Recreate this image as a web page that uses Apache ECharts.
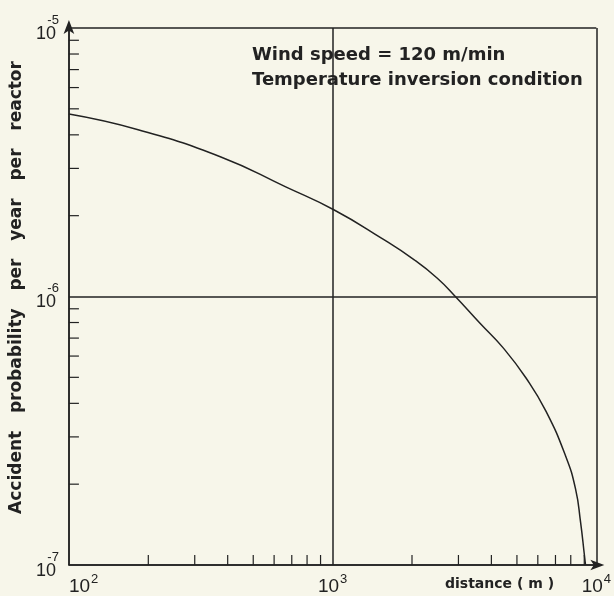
<!DOCTYPE html>
<html>
<head>
<meta charset="utf-8">
<script src="https://cdn.jsdelivr.net/npm/echarts@6/dist/echarts.min.js"></script>
<style>
  html, body { margin: 0; padding: 0; background: #f7f6ea; }
  #chart { width: 614px; height: 596px; }
</style>
</head>
<body>
<div id="chart"></div>
<script>
// distance (m) and accident probability
var distance = [100, 183, 377, 664, 1014, 1531, 2040, 2495, 2920, 3622, 4426, 5413, 6440, 7654, 8340, 8710, 9020, 9100];
var probability = [4.78e-6, 4.18e-6, 3.31e-6, 2.56e-6, 2.10e-6, 1.65e-6, 1.37e-6, 1.17e-6, 1.0e-6, 7.95e-7, 6.45e-7, 4.97e-7, 3.74e-7, 2.54e-7, 1.92e-7, 1.45e-7, 1.08e-7, 1.0e-7];

// minor ticks (inward)
var xMinor = [200, 300, 400, 500, 600, 700, 800, 900, 2000, 3000, 4000, 5000, 6000, 7000, 8000, 9000];
var yMinor = [2e-7, 3e-7, 4e-7, 5e-7, 6e-7, 7e-7, 8e-7, 9e-7, 2e-6, 3e-6, 4e-6, 5e-6, 6e-6, 7e-6, 8e-6, 9e-6];

var xMin = 100, xMax = 10000, yMin = 1e-7, yMax = 1e-5;
var ink = '#222';

var chart = echarts.init(document.getElementById('chart'));

function expOf(v) { return Math.round(Math.log(v) / Math.LN10); }

var option = {
  backgroundColor: '#f7f6ea',
  animation: false,
  grid: { left: 63, right: 16, top: 28, bottom: 30, containLabel: false },
  xAxis: {
    type: 'log', logBase: 10, min: xMin, max: xMax,
    axisLine: { show: true, lineStyle: { color: ink, width: 1.5 },
      symbol: ['none', 'arrow'], symbolSize: [8, 14], symbolOffset: [0, 8] },
    axisTick: { show: false },
    splitLine: { show: true, lineStyle: { color: ink, width: 1.5 } },
    axisLabel: {
      margin: 8,
      alignMinLabel: 'left',
      formatter: function (v) { return '{b|10}{s|' + expOf(v) + '}'; },
      rich: {
        b: { fontSize: 19, fontFamily: 'Liberation Sans', color: ink },
        s: { fontSize: 13, fontFamily: 'Liberation Sans', color: ink, padding: [0, 0, 14, 1] }
      }
    }
  },
  yAxis: {
    type: 'log', logBase: 10, min: yMin, max: yMax,
    name: 'Accident   probability   per   year   per   reactor',
    nameLocation: 'middle', nameRotate: 90, nameGap: 36,
    nameTextStyle: { fontSize: 17, fontWeight: 'bold', fontFamily: 'DejaVu Sans', color: ink, padding: [0, 0, 0, 18] },
    axisLine: { show: true, lineStyle: { color: ink, width: 1.5 },
      symbol: ['none', 'arrow'], symbolSize: [8, 14], symbolOffset: [0, 8] },
    axisTick: { show: false },
    splitLine: { show: true, lineStyle: { color: ink, width: 1.5 } },
    axisLabel: {
      margin: 10,
      align: 'right',
      formatter: function (v) { return '{s|' + expOf(v) + '}\n{b|10}'; },
      rich: {
        b: { fontSize: 18, fontFamily: 'Liberation Sans', color: ink, lineHeight: 16, padding: [0, 3, 0, 0] },
        s: { fontSize: 13, fontFamily: 'Liberation Sans', color: ink, lineHeight: 12 }
      }
    }
  },
  graphic: [
    { type: 'text', left: 252, top: 46,
      style: { text: 'Wind speed = 120 m/min', font: 'bold 18px "DejaVu Sans"', fill: ink } },
    { type: 'text', left: 252, top: 71,
      style: { text: 'Temperature inversion condition', font: 'bold 18px "DejaVu Sans"', fill: ink } },
    { type: 'text', left: 445, top: 577,
      style: { text: 'distance ( m )', font: 'bold 14px "DejaVu Sans"', fill: ink } }
  ],
  series: [
    {
      type: 'line',
      data: distance.map(function (d, i) { return [d, probability[i]]; }),
      smooth: 0.5,
      showSymbol: false,
      lineStyle: { color: ink, width: 1.5 }
    },
    {
      type: 'custom', silent: true, clip: false,
      data: xMinor.map(function (v) { return [v, yMin]; }),
      renderItem: function (params, api) {
        var p = api.coord([api.value(0), api.value(1)]);
        return { type: 'line', shape: { x1: p[0], y1: p[1], x2: p[0], y2: p[1] - 10 },
          style: { stroke: ink, lineWidth: 1.2 } };
      }
    },
    {
      type: 'custom', silent: true, clip: false,
      data: yMinor.map(function (v) { return [xMin, v]; }),
      renderItem: function (params, api) {
        var p = api.coord([api.value(0), api.value(1)]);
        return { type: 'line', shape: { x1: p[0], y1: p[1], x2: p[0] + 10, y2: p[1] },
          style: { stroke: ink, lineWidth: 1.2 } };
      }
    }
  ]
};

chart.setOption(option);
</script>
</body>
</html>
